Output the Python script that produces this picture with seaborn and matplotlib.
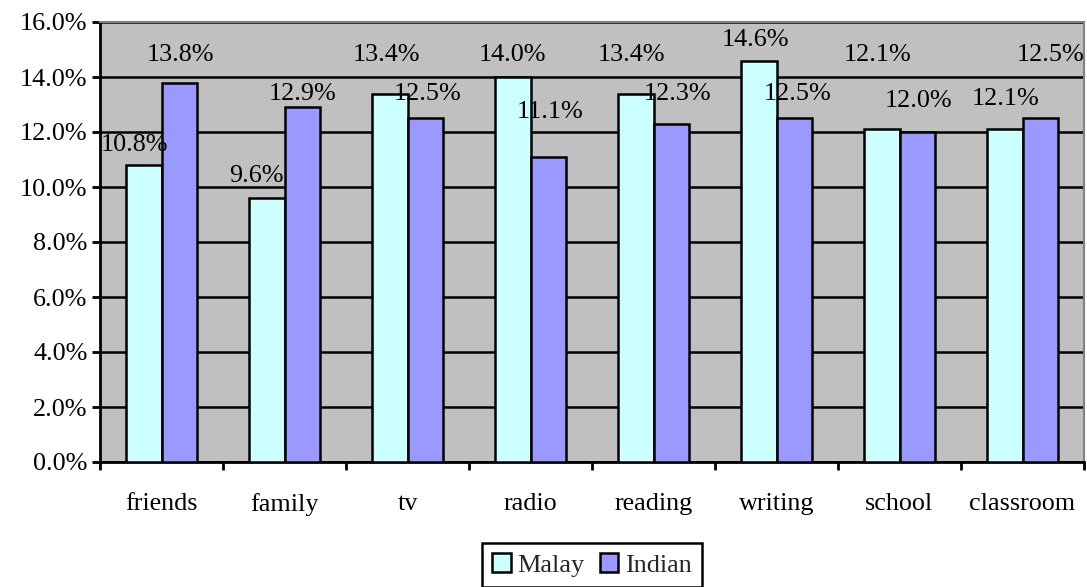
import matplotlib
matplotlib.use("Agg")
import matplotlib.pyplot as plt
from matplotlib.ticker import FixedLocator, FuncFormatter, MultipleLocator
import seaborn as sns
import pandas as pd

# Share of responses per context, by group (percent)
categories = ["friends", "family", "tv", "radio", "reading", "writing", "school", "classroom"]
malay = [10.8, 9.6, 13.4, 14.0, 13.4, 14.6, 12.1, 12.1]
indian = [13.8, 12.9, 12.5, 11.1, 12.3, 12.5, 12.0, 12.5]
groups = ["Malay", "Indian"]

# Hand-placed label nudges (pixels from the bar's top centre)
malay_nudge = [(-9.5, 20), (-10.5, 22), (-3.5, 38.5), (0, 22), (-4.5, 38.5), (-3.5, 20.5), (-4.5, 74), (0.5, 30)]
indian_nudge = [(1.5, 27.5), (0.5, 13), (2.5, 24), (2.5, 45), (6.5, 30), (3.5, 24), (1.5, 31), (10.5, 63)]

df = pd.DataFrame({
    "category": categories * 2,
    "group": [groups[0]] * len(categories) + [groups[1]] * len(categories),
    "share": malay + indian,
})

sns.set_theme(style="white")
plt.rcParams["font.family"] = ["Liberation Serif", "DejaVu Serif"]
FS = 18.8

W, H = 1087, 587
fig = plt.figure(figsize=(W / 100, H / 100), dpi=100)
ax = fig.add_axes([100 / W, 125 / H, 984 / W, 440 / H])
ax.set_facecolor("#C0C0C0")

palette = {"Malay": "#CCFFFF", "Indian": "#9999FF"}
sns.barplot(data=df, x="category", y="share", hue="group", order=categories,
            hue_order=groups, palette=palette, width=0.57, gap=0,
            edgecolor="black", linewidth=1.8, saturation=1, ax=ax, zorder=3)

ax.set_ylim(0, 16)
ax.set_xlim(-0.5, len(categories) - 0.5)
ax.yaxis.set_major_locator(MultipleLocator(2))
ax.yaxis.set_major_formatter(FuncFormatter(lambda v, _: f"{v:.1f}%"))
ax.grid(axis="y", color="black", linewidth=1.8, zorder=1)
ax.set_axisbelow(True)
ax.set_xlabel("")
ax.set_ylabel("")

for side in ["left", "bottom"]:
    ax.spines[side].set_color("black")
    ax.spines[side].set_linewidth(2)
for side in ["top", "right"]:
    ax.spines[side].set_color("#808080")
    ax.spines[side].set_linewidth(1.5)

ax.tick_params(axis="y", which="major", direction="out", length=6, width=2,
               color="black", left=True, labelsize=FS, pad=3, labelcolor="black")
ax.tick_params(axis="x", which="major", length=0, labelsize=FS, pad=22, labelcolor="black")
ax.xaxis.set_minor_locator(FixedLocator([i - 0.5 for i in range(len(categories) + 1)]))
ax.tick_params(axis="x", which="minor", direction="out", length=6, width=2,
               color="black", bottom=True)

px = 0.72  # points per pixel at 100 dpi
for container, values, nudges in zip(ax.containers, [malay, indian], [malay_nudge, indian_nudge]):
    for bar, v, (dx, dy) in zip(container, values, nudges):
        ax.annotate(f"{v:.1f}%", xy=(bar.get_x() + bar.get_width() / 2, v),
                    xytext=(dx * px, dy * px), textcoords="offset points",
                    ha="center", va="center", fontsize=FS, color="black",
                    annotation_clip=False, zorder=5)

handles, labels = ax.get_legend_handles_labels()
ax.get_legend().remove()
leg = fig.legend(handles, labels, loc="center", bbox_to_anchor=(592 / W, (587 - 565) / H),
                 ncol=2, frameon=True, fancybox=False, framealpha=1, edgecolor="black",
                 handlelength=0.7, handleheight=0.7, handletextpad=0.25,
                 columnspacing=0.6, borderpad=0.4, fontsize=FS)
leg.get_frame().set_linewidth(1.8)
for h in leg.legend_handles:
    h.set_edgecolor("black")
    h.set_linewidth(1.8)

fig.savefig("out.png", dpi=100, facecolor="white")
